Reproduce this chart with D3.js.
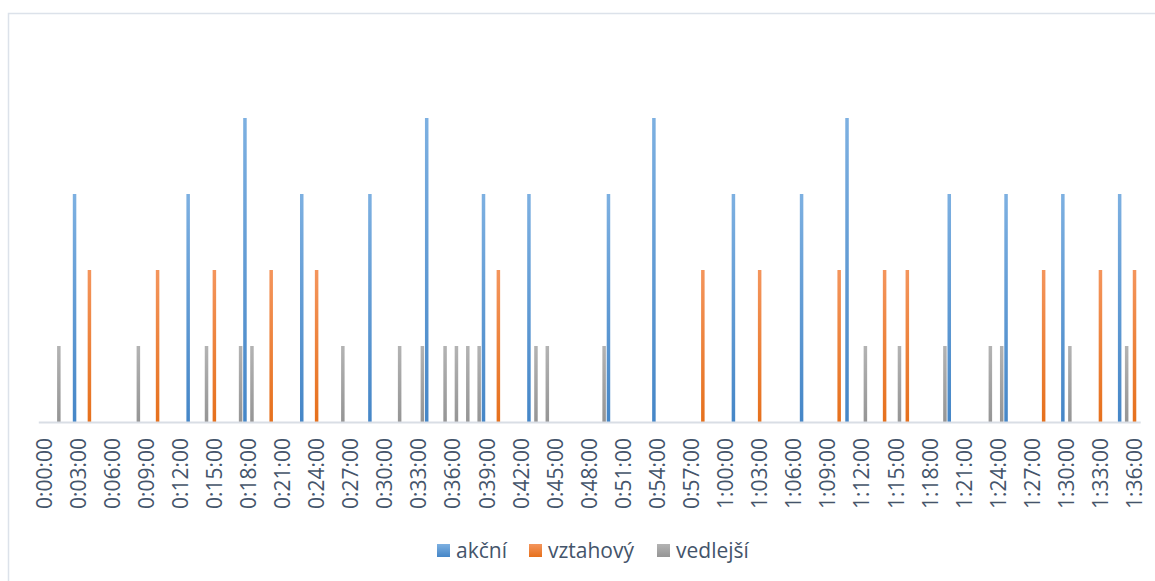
<!DOCTYPE html>
<html>
<head>
<meta charset="utf-8">
<script src="https://cdn.jsdelivr.net/npm/d3@7"></script>
<style>
  body { margin: 0; background: #fff; }
  svg { display: block; font-family: "Open Sans", sans-serif; }
</style>
</head>
<body>
<svg id="chart" width="1155" height="581"></svg>
<script>
// minute of the session (0..96) -> value
const akcni = [[3,3],[13,3],[18,4],[23,3],[29,3],[34,4],[39,3],[43,3],[50,3],[54,4],[61,3],[67,3],[71,4],[80,3],[85,3],[90,3],[95,3]];
const vztahovy = [[4,2],[10,2],[15,2],[20,2],[24,2],[40,2],[58,2],[63,2],[70,2],[74,2],[76,2],[88,2],[93,2],[96,2]];
const vedlejsi = [[1,1],[8,1],[14,1],[17,1],[18,1],[26,1],[31,1],[33,1],[35,1],[36,1],[37,1],[38,1],[43,1],[44,1],[49,1],[72,1],[75,1],[79,1],[83,1],[84,1],[90,1],[95,1]];

const seriesNames = ["akční", "vztahový", "vedlejší"];
const tickLabels = ["0:00:00","0:03:00","0:06:00","0:09:00","0:12:00","0:15:00","0:18:00","0:21:00","0:24:00","0:27:00","0:30:00","0:33:00","0:36:00","0:39:00","0:42:00","0:45:00","0:48:00","0:51:00","0:54:00","0:57:00","1:00:00","1:03:00","1:06:00","1:09:00","1:12:00","1:15:00","1:18:00","1:21:00","1:24:00","1:27:00","1:30:00","1:33:00","1:36:00"];

const colors = {
	"akční": ["#7db0e1", "#4586c7"],
	"vztahový": ["#f4955c", "#e6701c"],
	"vedlejší": ["#b3b3b3", "#959595"],
};

const minutes = d3.range(97);
const tickMinutes = tickLabels.map((d) => {
	const [h, m] = d.split(":");
	return +h * 60 + +m;
});

const svg = d3.select("#chart");

// chart area border
svg.append("rect")
	.attr("x", 8.5).attr("y", 13.5)
	.attr("width", 1170).attr("height", 600)
	.attr("fill", "none")
	.attr("stroke", "#dce2ea")
	.attr("stroke-width", 1.5);

const defs = svg.append("defs");
seriesNames.forEach((s, i) => {
	const gr = defs.append("linearGradient")
		.attr("id", "g" + i)
		.attr("x1", 0).attr("y1", 0).attr("x2", 0).attr("y2", 1);
	gr.append("stop").attr("offset", "0%").attr("stop-color", colors[s][0]);
	gr.append("stop").attr("offset", "100%").attr("stop-color", colors[s][1]);
});

const x0 = d3.scaleBand().domain(minutes).range([38.3, 1140.2]);
const x1 = d3.scaleBand().domain(seriesNames).range([0, x0.bandwidth()]).paddingOuter(0.12);
const y = d3.scaleLinear().domain([0, 5]).range([422, 42]);

const table = [akcni, vztahovy, vedlejsi].flatMap((arr, i) =>
	arr.map(([m, v]) => ({ m, v, s: seriesNames[i], i }))
);

svg.append("g")
	.selectAll("rect")
	.data(table)
	.join("rect")
	.attr("x", (d) => x0(d.m) + x1(d.s))
	.attr("y", (d) => y(d.v))
	.attr("width", x1.bandwidth())
	.attr("height", (d) => y(0) - y(d.v))
	.attr("fill", (d) => `url(#g${d.i})`);

const axis = svg.append("g")
	.attr("transform", `translate(0,${y(0)})`)
	.call(d3.axisBottom(x0)
		.tickValues(tickMinutes)
		.tickFormat((d, i) => tickLabels[i])
		.tickSize(0));
axis.select(".domain").attr("stroke", "#d9dee5").attr("stroke-width", 2);
axis.selectAll(".tick text")
	.attr("transform", "rotate(-90)")
	.attr("x", -16)
	.attr("y", 0)
	.attr("dy", "0.36em")
	.attr("text-anchor", "end")
	.attr("fill", "#44546a")
	.attr("font-size", 21)
	.attr("font-family", "Open Sans");

// legend
const legendX = [437, 529, 657];
const legend = svg.append("g");
seriesNames.forEach((s, i) => {
	const g = legend.append("g").attr("transform", `translate(${legendX[i]},544)`);
	g.append("rect").attr("width", 13).attr("height", 13).attr("fill", `url(#g${i})`);
	g.append("text")
		.attr("x", 19).attr("y", 6.5).attr("dy", "0.36em")
		.attr("fill", "#44546a")
		.attr("font-size", 21)
		.text(s);
});
</script>
</body>
</html>
